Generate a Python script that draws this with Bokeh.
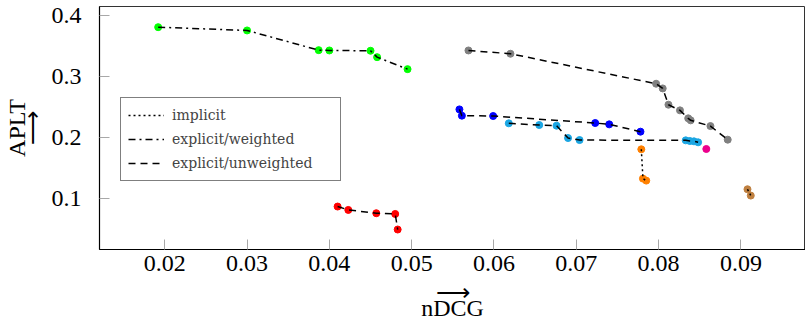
from bokeh.plotting import figure
from bokeh.models import Range1d, FixedTicker, Legend, LegendItem
from bokeh.embed import file_html
from bokeh.resources import INLINE

# ---- data ----
green_x = [0.0192, 0.0300, 0.0387, 0.0400, 0.0450, 0.0458, 0.0495]
green_y = [0.3813, 0.3759, 0.3435, 0.3430, 0.3425, 0.3320, 0.3123]

gray_x = [0.0569, 0.0620, 0.0797, 0.0805, 0.0812, 0.0826, 0.0836, 0.0839, 0.0863, 0.0884]
gray_y = [0.3430, 0.3376, 0.2883, 0.2806, 0.2538, 0.2445, 0.2314, 0.2281, 0.2187, 0.1963]

blue_x = [0.0558, 0.0561, 0.0599, 0.0723, 0.0740, 0.0778]
blue_y = [0.2461, 0.2358, 0.2352, 0.2237, 0.2215, 0.2095]

cyan_x = [0.0618, 0.0655, 0.0676, 0.0690, 0.0704, 0.0833, 0.0838, 0.0843, 0.0848]
cyan_y = [0.2232, 0.2204, 0.2193, 0.1990, 0.1957, 0.1952, 0.1941, 0.1936, 0.1920]

red_x = [0.0410, 0.0423, 0.0457, 0.0480, 0.0483]
red_y = [0.0864, 0.0808, 0.0754, 0.0742, 0.0486]

orange_x = [0.0779, 0.0781, 0.0785]
orange_y = [0.1805, 0.1323, 0.1290]

brown_x = [0.0908, 0.0912]
brown_y = [0.1148, 0.1044]

pink_x = [0.0858]
pink_y = [0.1810]

x_ticks = [0.02, 0.03, 0.04, 0.05, 0.06, 0.07, 0.08, 0.09]
y_ticks = [0.1, 0.2, 0.3, 0.4]

legend_labels = ["implicit", "explicit/weighted", "explicit/unweighted"]
x_label = "\u27f6\nnDCG"
y_label = "APLT\n\u27f6"

FONT = "'Liberation Serif'"
LEGEND_FONT = "'DejaVu Serif'"

p = figure(width=805, height=325, output_backend="svg", toolbar_location=None,
           x_range=Range1d(0.01207, 0.09785), y_range=Range1d(0.01576, 0.41527),
           min_border_left=99, min_border_right=0, min_border_top=6, min_border_bottom=76)

p.background_fill_color = "white"
p.border_fill_color = "white"
p.outline_line_color = "#333333"
p.outline_line_width = 1
p.xgrid.visible = False
p.ygrid.visible = False

for ax in (p.xaxis[0], p.yaxis[0]):
    ax.axis_line_color = "black"
    ax.axis_line_width = 1.2
    ax.major_tick_in = 10
    ax.major_tick_out = 0
    ax.minor_tick_in = 0
    ax.minor_tick_out = 0
    ax.major_tick_line_color = "#a8a8a8"
    ax.major_tick_line_width = 1
    ax.major_label_text_font = FONT
    ax.major_label_text_font_size = "24px"
    ax.major_label_text_color = "black"
    ax.axis_label_text_font = FONT
    ax.axis_label_text_font_size = "24px"
    ax.axis_label_text_font_style = "normal"
    ax.axis_label_text_color = "black"
    ax.axis_label_text_line_height = 0.6

p.xaxis.ticker = FixedTicker(ticks=x_ticks)
p.yaxis.ticker = FixedTicker(ticks=y_ticks)
p.xaxis.axis_label = x_label
p.yaxis.axis_label = y_label
p.xaxis.major_label_standoff = 6
p.xaxis.axis_label_standoff = 6
p.yaxis.major_label_standoff = 18
p.yaxis.axis_label_standoff = 3

# ---- markers ----
series = [
    (green_x, green_y, "#00ff00"),
    (gray_x, gray_y, "#808080"),
    (blue_x, blue_y, "#0000ff"),
    (cyan_x, cyan_y, "#1ba6e3"),
    (red_x, red_y, "#ff0000"),
    (orange_x, orange_y, "#ff8000"),
    (brown_x, brown_y, "#bf8040"),
    (pink_x, pink_y, "#ec008c"),
]
for xs, ys, c in series:
    p.scatter(xs, ys, size=7, fill_color=c, line_color=c)

# ---- lines ----
DASHED = "7 5"
DASHDOT = "7 4 2 4"
DOTTED = "2 3"
kw = dict(line_color="black", line_width=1.5)
l_green = p.line(green_x, green_y, line_dash=DASHDOT, **kw)
l_gray = p.line(gray_x, gray_y, line_dash=DASHED, **kw)
p.line(blue_x, blue_y, line_dash=DASHED, **kw)
p.line(cyan_x, cyan_y, line_dash=DASHED, **kw)
p.line(red_x, red_y, line_dash=DASHED, **kw)
l_orange = p.line(orange_x, orange_y, line_dash=DOTTED, **kw)
p.line(brown_x, brown_y, line_dash=DOTTED, **kw)

legend = Legend(items=[
    LegendItem(label=legend_labels[0], renderers=[l_orange]),
    LegendItem(label=legend_labels[1], renderers=[l_green]),
    LegendItem(label=legend_labels[2], renderers=[l_gray]),
], location=(21, 68), margin=0, padding=7, spacing=4,
   glyph_width=36, glyph_height=20, label_height=20, label_standoff=8, label_width=161,
   label_text_font=LEGEND_FONT, label_text_font_size="14px",
   border_line_color="black", border_line_width=1, background_fill_alpha=1)
p.add_layout(legend)

open("out.html", "w").write(file_html(p, INLINE))
